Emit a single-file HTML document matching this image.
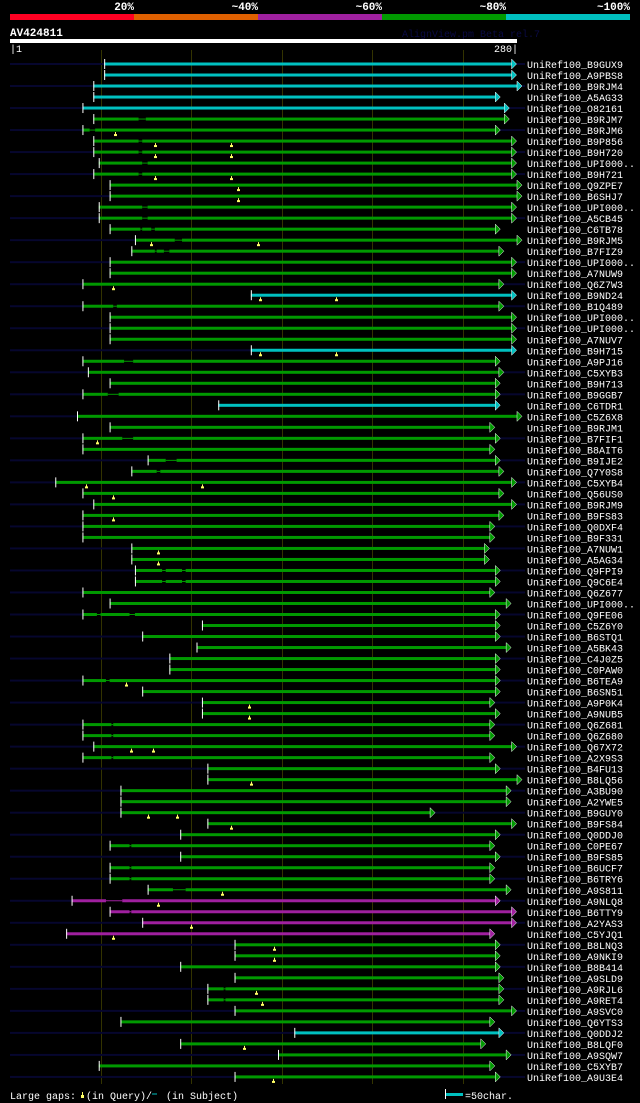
<!DOCTYPE html>
<html><head><meta charset="utf-8"><style>
html,body{margin:0;padding:0;background:#000;}
svg{display:block;}
text{font-family:"Liberation Mono",monospace;}
</style></head><body>
<svg id="chart" width="640" height="1103" viewBox="0 0 640 1103" xmlns="http://www.w3.org/2000/svg">
<rect width="640" height="1103" fill="#000"/>
<g id="header"></g>
<text x="10" y="36" fill="#fff" font-size="11" font-weight="bold">AV424811</text>
<text x="402" y="37" fill="#0a0a44" font-size="10">AlignView.pm Beta rel.7</text>
<rect x="10" y="39" width="507" height="4" fill="#fff"/>
<text x="10" y="52" fill="#fff" font-size="10">|1</text>
<text x="518" y="52" fill="#fff" font-size="10" text-anchor="end">280|</text>
<g id="grid"></g>
<g id="rows"></g>
<g id="footer">
<text x="10" y="1099" fill="#fff" font-size="10">Large gaps:</text>
<line x1="82.5" y1="1092" x2="82.5" y2="1096" stroke="#ffff66"/>
<rect x="81" y="1095" width="3" height="3" fill="#ffff66"/>
<text x="86" y="1099" fill="#fff" font-size="10">(in Query)/</text>
<line x1="152" y1="1094" x2="157" y2="1094" stroke="#00c0c0"/>
<text x="166" y="1099" fill="#fff" font-size="10">(in Subject)</text>
<line x1="445.5" y1="1089" x2="445.5" y2="1099" stroke="#fff"/>
<rect x="446" y="1093" width="17" height="3" fill="#00c0c0"/>
<text x="465" y="1099" fill="#fff" font-size="10">=50char.</text>
</g>
</svg>
<script>
const legendLabels=["20%","~40%","~60%","~80%","~100%"];
const legendColors=["#ff0022","#e06000","#a020a0","#009900","#00c0c0"];
const gridTicks=[50,100,150,200,250];
const names=["B9GUX9","A9PBS8","B9RJM4","A5AG33","O82161","B9RJM7","B9RJM6","B9P856","B9H720","UPI000..","B9H721","Q9ZPE7","B6SHJ7","UPI000..","A5CB45","C6TB78","B9RJM5","B7FIZ9","UPI000..","A7NUW9","Q6Z7W3","B9ND24","B1Q489","UPI000..","UPI000..","A7NUV7","B9H715","A9PJ16","C5XYB3","B9H713","B9GGB7","C6TDR1","C5Z6X8","B9RJM1","B7FIF1","B8AIT6","B9IJE2","Q7Y0S8","C5XYB4","Q56US0","B9RJM9","B9FS83","Q0DXF4","B9F331","A7NUW1","A5AG34","Q9FPI9","Q9C6E4","Q6Z677","UPI000..","Q9FE06","C5Z6Y0","B6STQ1","A5BK43","C4J0Z5","C0PAW0","B6TEA9","B6SN51","A9P0K4","A9NUB5","Q6Z681","Q6Z680","Q67X72","A2X9S3","B4FU13","B8LQ56","A3BU90","A2YWE5","B9GUY0","B9FS84","Q0DDJ0","C0PE67","B9FS85","B6UCF7","B6TRY6","A9S811","A9NLQ8","B6TTY9","A2YAS3","C5YJQ1","B8LNQ3","A9NKI9","B8B414","A9SLD9","A9RJL6","A9RET4","A9SVC0","Q6YTS3","Q0DDJ2","B8LQF0","A9SQW7","C5XYB7","A9U3E4"];
const starts=[52,52,46,46,40,46,40,46,46,49,46,55,55,49,49,55,69,67,55,55,40,133,40,55,55,55,133,40,43,55,40,115,37,55,40,40,76,67,25,40,46,40,40,40,67,67,69,69,40,55,40,106,73,103,88,88,40,73,106,106,40,40,46,40,109,109,61,61,61,109,94,55,94,55,55,76,34,55,73,31,124,124,94,124,109,109,124,61,157,94,148,49,124];
const ends=[277,277,280,268,273,273,268,277,277,277,277,280,280,277,277,268,280,270,277,277,270,277,270,277,277,277,277,268,270,268,268,268,280,265,268,265,268,270,277,270,277,270,265,265,262,262,268,268,265,274,268,268,268,274,268,268,268,268,265,268,265,265,277,265,268,280,274,274,232,277,268,265,268,265,265,274,268,277,277,265,268,268,268,270,270,270,277,265,270,260,274,265,268];
const identity=["c","c","c","c","c","g","g","g","g","g","g","g","g","g","g","g","g","g","g","g","g","c","g","g","g","g","c","g","g","g","g","c","g","g","g","g","g","g","g","g","g","g","g","g","g","g","g","g","g","g","g","g","g","g","g","g","g","g","g","g","g","g","g","g","g","g","g","g","g","g","g","g","g","g","g","g","p","p","p","p","g","g","g","g","g","g","g","g","c","g","g","g","g"];
const leftExt=[1,0,1,0,1,0,1,0,1,0,1,0,1,0,1,0,1,0,1,0,1,0,1,0,1,0,1,0,1,0,1,0,1,0,1,0,1,0,1,0,1,0,1,0,1,0,1,0,1,0,1,0,1,0,1,0,1,0,1,0,1,0,1,0,1,0,1,0,1,0,1,0,1,0,1,0,1,0,1,0,1,0,1,0,1,0,1,0,1,0,1,0,1];
const rightExt=[1,0,1,0,1,0,1,0,1,0,1,0,0,0,1,0,0,0,1,0,1,0,1,0,1,0,0,0,1,0,1,0,0,0,1,0,1,0,1,0,1,0,1,0,1,0,1,0,1,0,1,0,1,0,1,0,1,0,1,0,1,0,1,0,1,0,1,0,1,0,1,0,1,0,1,0,1,0,1,0,1,0,1,0,1,0,1,0,1,0,1,0,1];
const subjectGaps=[[],[],[],[],[],[[71,75]],[[44,47]],[[71,73]],[[71,73]],[[73,76]],[[71,73]],[],[],[[73,76]],[[73,76]],[[72,73],[78,80]],[[91,95]],[[80,81],[85,88]],[],[],[],[],[[57,59]],[],[],[],[],[[63,68]],[],[],[[54,60]],[],[],[],[[62,68]],[],[[86,92]],[[81,83]],[],[],[],[],[],[],[],[],[[84,86],[95,97]],[[84,86],[95,97]],[],[],[[48,50],[66,69]],[],[],[],[],[],[[53,55]],[],[],[],[[56,57]],[[56,57]],[],[[56,57]],[],[],[],[],[],[],[],[[66,67]],[],[[66,67]],[[66,67]],[[90,97]],[[53,62]],[[66,67]],[],[],[],[],[],[],[[118,119]],[[118,119]],[],[],[],[],[],[],[]];
const queryGaps=[[],[],[],[],[],[],[58],[80,122],[80,122],[],[80,122],[126],[126],[],[],[],[78,137],[],[],[],[57],[138,180],[],[],[],[],[138,180],[],[],[],[],[],[],[],[48],[],[],[],[42,106],[57],[],[57],[],[],[82],[82],[],[],[],[],[],[],[],[],[],[],[64],[],[132],[132],[],[],[67,79],[],[],[133],[],[],[76,92],[122],[],[],[],[],[],[117],[82],[],[100],[57],[146],[146],[],[],[136],[139],[],[],[],[129],[],[],[145]];

const NS="http://www.w3.org/2000/svg";
const X0=10,X1=517,QLEN=280,ROW0=64,ROWH=11.01;
function xs(p){return X0+p*(X1-X0)/QLEN;}
function ys(i){return ROW0+i*ROWH;}
const colorMap={c:"#00c0c0",g:"#009900",p:"#a020a0"};
function mk(tag,attrs,parent){const e=document.createElementNS(NS,tag);for(const k in attrs)e.setAttribute(k,attrs[k]);parent.appendChild(e);return e;}

const header=document.getElementById("header");
legendLabels.forEach((l,i)=>{
  const seg=mk("rect",{x:10+i*124,y:14,width:124,height:6,fill:legendColors[i]},header);
  
  
  const t=mk("text",{x:10+(i+1)*124,y:10,fill:"#fff","font-size":11,"font-weight":"bold","text-anchor":"end"},header);
  t.textContent=l;
  
  
});

const grid=document.getElementById("grid");
gridTicks.forEach(v=>{
  const l=mk("line",{x1:Math.round(xs(v))+0.5,y1:50,x2:Math.round(xs(v))+0.5,y2:1084,stroke:"#333300","stroke-width":1},grid);
  
  
});

const rows=document.getElementById("rows");
names.forEach((n,i)=>{
  const y=ys(i),col=colorMap[identity[i]];
  const g=mk("g",{},rows);
  
  
  const sx=xs(starts[i]),ex=xs(ends[i]);
  if(leftExt[i]) mk("rect",{x:10,y:y-1,width:sx-10,height:2,fill:"#06062e"},g);
  if(rightExt[i]) mk("rect",{x:ex,y:y-1,width:525-ex,height:2,fill:"#06062e"},g);
  // bar pieces around subject gaps
  let cur=starts[i];
  const segs=[];
  subjectGaps[i].forEach(gp=>{segs.push([cur,gp[0]]);cur=gp[1];});
  segs.push([cur,ends[i]]);
  segs.forEach(s=>{
    const b=mk("rect",{x:xs(s[0]),y:y-1.5,width:Math.max(0,xs(s[1])-xs(s[0])),height:3,fill:col},g);
    
    
  });
  subjectGaps[i].forEach(gp=>{
    const l=mk("rect",{x:xs(gp[0]),y:y-0.5,width:xs(gp[1])-xs(gp[0]),height:1,fill:col},g);
    
    
  });
  mk("line",{x1:sx+0.5,y1:y-5,x2:sx+0.5,y2:y+5,stroke:"#fff","stroke-width":1},g);
  const a=mk("polygon",{points:`${ex},${y-5} ${ex+5},${y} ${ex},${y+5}`,fill:col,stroke:"#fff","stroke-width":0.5},g);
  
  
  queryGaps[i].forEach(q=>{
    const qx=Math.round(xs(q));
    mk("line",{x1:qx+0.5,y1:y+2,x2:qx+0.5,y2:y+5,stroke:"#ffff66","stroke-width":1},g);
    const m=mk("rect",{x:qx-1,y:y+4,width:3,height:2,fill:"#ffff66"},g);
    
    
  });
  const t=mk("text",{x:527,y:y+4,fill:"#fff","font-size":10},g);
  t.textContent="UniRef100_"+n;
  
  
});
</script>
</body></html>
